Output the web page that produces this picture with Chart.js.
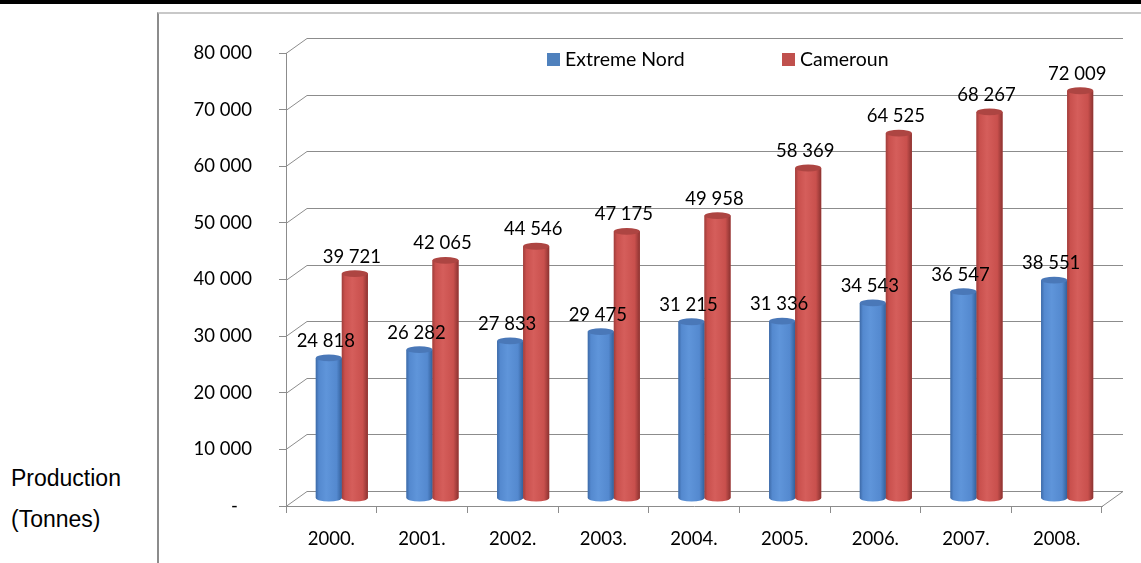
<!DOCTYPE html>
<html>
<head>
<meta charset="utf-8">
<script src="https://cdn.jsdelivr.net/npm/chart.js@4.4.1/dist/chart.umd.min.js"></script>
<style>
    html, body { margin: 0; padding: 0; background: #fff; }
    #wrap { position: relative; width: 1141px; height: 563px; overflow: hidden; }
    #topRule { position: absolute; left: 0; top: 0; width: 1141px; height: 4px; background: #000; }
    #frame { position: absolute; left: 157px; top: 12px; width: 1000px; height: 560px; border-left: 2px solid #8c8c8c; border-top: 2px solid #c8c8c8; }
    #ylabel { position: absolute; left: 11px; top: 458px; font-family: "Liberation Sans", Arial, sans-serif; font-size: 23px; line-height: 41px; color: #000; }
    canvas { position: absolute; left: 0; top: 0; }
</style>
</head>
<body>
<div id="wrap">
    <div id="topRule"></div>
    <div id="frame"></div>
    <div id="ylabel">Production<br>(Tonnes)</div>
    <canvas id="chart" width="1141" height="563"></canvas>
</div>
<script>
// Data
const years = ['2000.', '2001.', '2002.', '2003.', '2004.', '2005.', '2006.', '2007.', '2008.'];
const extremeNord = [24818, 26282, 27833, 29475, 31215, 31336, 34543, 36547, 38551];
const cameroun = [39721, 42065, 44546, 47175, 49958, 58369, 64525, 68267, 72009];
const seriesNames = ['Extreme Nord', 'Cameroun'];

const fmt = v => String(v).replace(/\B(?=(\d{3})+(?!\d))/g, ' ');
const FONT = '"Lato", "Open Sans", sans-serif';

// depth offsets (back wall and bar plane)
const DEPTH = { dx: 21, dy: -15 };
const MID = { dx: 10.5, dy: -7.5 };
const GRID = '#8c8c8c';

const shades = [
    { edgeL: '#3d6aa8', mid: '#5489cf', hi: '#5f95da', edgeR: '#33609b', top: '#4a78b8' },
    { edgeL: '#a03e3b', mid: '#c9504d', hi: '#d55e5b', edgeR: '#8c3331', top: '#ad4542' }
];

const cylinderPlugin = {
    id: 'cylinders',
    beforeDatasetsDraw(chart) {
        const { ctx, chartArea: a, scales: { y } } = chart;
        ctx.save();
        ctx.strokeStyle = GRID;
        ctx.lineWidth = 1;
        y.ticks.forEach(t => {
            const py = Math.round(y.getPixelForValue(t.value)) + 0.5;
            ctx.beginPath();
            ctx.moveTo(a.left, py);
            ctx.lineTo(a.left + DEPTH.dx, py + DEPTH.dy);
            ctx.lineTo(a.right + DEPTH.dx, py + DEPTH.dy);
            ctx.stroke();
        });
        // floor right edge
        ctx.beginPath();
        ctx.moveTo(a.right, a.bottom + 0.5);
        ctx.lineTo(a.right + DEPTH.dx, a.bottom + 0.5 + DEPTH.dy);
        ctx.stroke();
        ctx.restore();

        ctx.save();
        ctx.translate(MID.dx, MID.dy);
    },
    afterDatasetsDraw(chart) {
        const { ctx } = chart;
        chart.data.datasets.forEach((ds, di) => {
            const s = shades[di];
            chart.getDatasetMeta(di).data.forEach(el => {
                const w = el.width, x0 = el.x - w / 2, top = el.y, base = el.base;
                const ry = 3.4;
                const g = ctx.createLinearGradient(x0, 0, x0 + w, 0);
                g.addColorStop(0, s.edgeL);
                g.addColorStop(0.12, s.mid);
                g.addColorStop(0.4, s.hi);
                g.addColorStop(0.8, s.mid);
                g.addColorStop(1, s.edgeR);
                ctx.fillStyle = g;
                ctx.beginPath();
                ctx.moveTo(x0, top);
                ctx.lineTo(x0, base);
                ctx.ellipse(el.x, base, w / 2, ry, 0, Math.PI, 0, true);
                ctx.lineTo(x0 + w, top);
                ctx.closePath();
                ctx.fill();
                ctx.fillStyle = s.top;
                ctx.beginPath();
                ctx.ellipse(el.x, top, w / 2, ry, 0, 0, Math.PI * 2);
                ctx.fill();
            });
        });
        // value labels
        ctx.fillStyle = '#000';
        ctx.font = '18.5px ' + FONT;
        ctx.textAlign = 'center';
        ctx.textBaseline = 'middle';
        chart.data.datasets.forEach((ds, di) => {
            chart.getDatasetMeta(di).data.forEach((el, i) => {
                ctx.fillText(fmt(ds.data[i]), el.x - 3, el.y - 17);
            });
        });
        ctx.restore();
    },
    afterDraw(chart) {
        const { ctx } = chart;
        // legend
        const items = [{ x: 547 }, { x: 782 }];
        ctx.save();
        ctx.font = '19.5px ' + FONT;
        ctx.textAlign = 'left';
        ctx.textBaseline = 'middle';
        chart.data.datasets.forEach((ds, di) => {
            const x = items[di].x;
            ctx.fillStyle = ds.backgroundColor;
            ctx.fillRect(x, 53, 13, 13);
            ctx.fillStyle = '#000';
            ctx.fillText(ds.label, x + 18, 60);
        });
        ctx.restore();
    }
};

new Chart(document.getElementById('chart'), {
    type: 'bar',
    data: {
        labels: years,
        datasets: [
            { label: seriesNames[0], data: extremeNord, backgroundColor: '#4f81bd', clip: false },
            { label: seriesNames[1], data: cameroun, backgroundColor: '#c0504d', clip: false }
        ]
    },
    options: {
        responsive: false,
        animation: false,
        categoryPercentage: 0.574,
        barPercentage: 1,
        layout: { padding: { left: 0, right: 39, top: 53, bottom: 0 } },
        plugins: { legend: { display: false }, tooltip: { enabled: false } },
        scales: {
            x: {
                afterFit: s => { s.height = 57; },
                grid: { drawOnChartArea: false, tickLength: 7, color: GRID },
                border: { color: GRID },
                ticks: { color: '#000', font: { family: FONT, size: 18.5 }, padding: 15 }
            },
            y: {
                min: 0,
                max: 80000,
                afterFit: s => { s.width = 286; },
                grid: { drawOnChartArea: false, tickLength: 7, color: GRID },
                border: { color: GRID },
                ticks: {
                    stepSize: 10000,
                    color: '#000',
                    font: { family: FONT, size: 18.5 },
                    padding: 27,
                    callback: v => v === 0 ? '-   ' : fmt(v)
                }
            }
        }
    },
    plugins: [cylinderPlugin]
});
</script>
</body>
</html>
